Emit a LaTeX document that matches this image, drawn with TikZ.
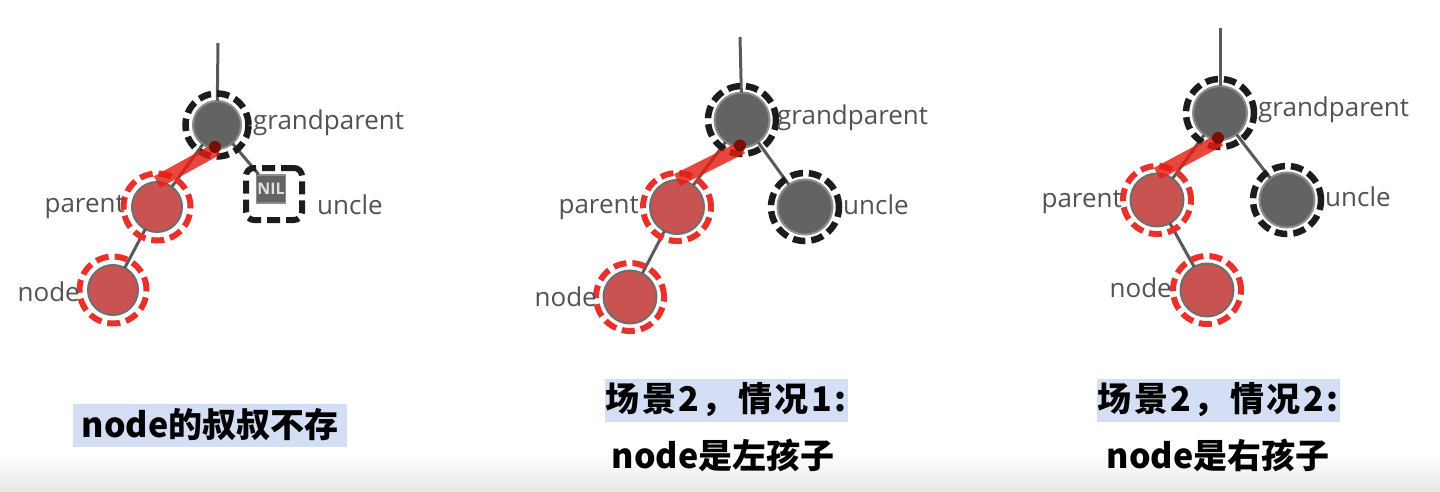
\documentclass[tikz,border=0pt]{standalone}
\usepackage{fontspec}
\setmainfont{Open Sans}
\newfontfamily\cjk{Noto Sans CJK SC}
\usetikzlibrary{calc}
\definecolor{nodegray}{HTML}{636363}
\definecolor{outgray}{HTML}{8C8C8C}
\definecolor{outred}{HTML}{6E6E6E}
\definecolor{nodered}{HTML}{C95350}
\definecolor{ringred}{HTML}{E8312B}
\definecolor{ringblack}{HTML}{1C1C1C}
\definecolor{edgegray}{HTML}{5A5A5A}
\definecolor{labelgray}{HTML}{525252}
\definecolor{bandred}{HTML}{E41E12}
\definecolor{darkdot}{HTML}{7A0C05}
\definecolor{hlblue}{HTML}{D4DFF6}
\newcommand\ks{\kern2.5pt}
\begin{document}
\begin{tikzpicture}[x=1pt,y=-1pt,
  gnode/.style={circle, inner sep=0pt, outer sep=0pt, minimum size=#1, fill=nodegray, draw=outgray, line width=2pt},
  rnode/.style={circle, inner sep=0pt, outer sep=0pt, minimum size=#1, fill=nodered, draw=outred, line width=2pt},
  bring/.style={circle, inner sep=0pt, minimum size=#1, draw=ringblack, line width=6.5pt, dash pattern=on 12.5pt off 6pt},
  rring/.style={circle, inner sep=0pt, minimum size=#1, draw=ringred, line width=6pt, dash pattern=on 13pt off 6pt},
  edge/.style={draw=edgegray, line width=3pt},
  band/.style={draw=bandred, line width=13pt, opacity=0.82},
  lbl/.style={text=labelgray, font=\fontsize{26}{30}\selectfont, inner sep=0pt},
  captxt/.style={font=\cjk\bfseries\fontsize{34}{40}\selectfont, text=black, inner sep=0pt},
  hlbox/.style={captxt, fill=hlblue, minimum height=43pt}
]
\useasboundingbox (0,0) rectangle (1440,492);
\shade[top color=white, bottom color=black!9] (0,452) rectangle (1440,492);

% ---------- panel 1 ----------
\node[gnode=48pt] (g1) at (217,125) {};
\node[rnode=50pt] (p1) at (157,207) {};
\node[rnode=50pt] (n1) at (113,290) {};
\node[rectangle, inner sep=0pt, minimum width=29pt, minimum height=28pt, fill=nodegray, draw=outgray, line width=1.5pt, text=white!88!black, font=\bfseries\fontsize{16}{17}\selectfont] (u1) at (271,189) {NIL};
\coordinate (t1) at (218,43);
\draw[edge] (t1) -- (g1);
\draw[edge] (g1) -- (p1);
\draw[edge] (g1) -- (u1);
\draw[edge] (p1) -- (n1);
\node[bring=63pt] (g1r) at (g1) {};
\node[rring=67pt] (p1r) at (p1) {};
\node[rring=67pt] (n1r) at (n1) {};
\node[rectangle, inner sep=0pt, minimum width=56pt, minimum height=52pt, rounded corners=8pt, draw=ringblack, line width=6pt, dash pattern=on 13pt off 6pt] (u1r) at (274,194) {};
\draw[band] (g1.south) -- (p1.north);
\fill[darkdot] ($(g1.south)+(-2,-2)$) circle (6pt);
\node[lbl, anchor=west] (g1l) at (253,123) {grandparent};
\node[lbl, anchor=west] (u1l) at (317,205) {uncle};
\node[lbl, anchor=east] (p1l) at (125,207) {parent};
\node[lbl, anchor=east] (n1l) at (80,292) {node};

% ---------- panel 2 ----------
\node[gnode=55pt] (g2) at (742,120) {};
\node[rnode=54pt] (p2) at (677,207) {};
\node[gnode=55pt] (u2) at (805,207) {};
\node[rnode=53pt] (n2) at (630,297) {};
\coordinate (t2) at (740,37);
\draw[edge] (t2) -- (g2);
\draw[edge] (g2) -- (p2);
\draw[edge] (g2) -- (u2);
\draw[edge] (p2) -- (n2);
\node[bring=68pt] (g2r) at (g2) {};
\node[rring=68pt] (p2r) at (p2) {};
\node[bring=68pt] (u2r) at (u2) {};
\node[rring=68pt] (n2r) at (n2) {};
\draw[band] (g2.south) -- (p2.north);
\fill[darkdot] ($(g2.south)+(-2,-2)$) circle (6pt);
\node[lbl, anchor=west] (g2l) at (777,118) {grandparent};
\node[lbl, anchor=west] (u2l) at (843,205) {uncle};
\node[lbl, anchor=east] (p2l) at (639,208) {parent};
\node[lbl, anchor=east] (n2l) at (597,297) {node};

% ---------- panel 3 ----------
\node[gnode=54pt] (g3) at (1220,113) {};
\node[rnode=53pt] (p3) at (1157,200) {};
\node[gnode=55pt] (u3) at (1287,200) {};
\node[rnode=53pt] (n3) at (1207,290) {};
\coordinate (t3) at (1220,28);
\draw[edge] (t3) -- (g3);
\draw[edge] (g3) -- (p3);
\draw[edge] (g3) -- (u3);
\draw[edge] (p3) -- (n3);
\node[bring=68pt] (g3r) at (g3) {};
\node[rring=68pt] (p3r) at (p3) {};
\node[bring=68pt] (u3r) at (u3) {};
\node[rring=68pt] (n3r) at (n3) {};
\draw[band] (g3.south) -- (p3.north);
\fill[darkdot] ($(g3.south)+(-2,-2)$) circle (6pt);
\node[lbl, anchor=west] (g3l) at (1258,110) {grandparent};
\node[lbl, anchor=west] (u3l) at (1325,197) {uncle};
\node[lbl, anchor=east] (p3l) at (1122,202) {parent};
\node[lbl, anchor=east] (n3l) at (1172,288) {node};

% ---------- captions ----------
\node[hlbox, minimum width=274pt] (c1) at (210,425) {node的叔叔不存};
\node[hlbox, minimum width=243pt] (c2a) at (726,400) {场\ks 景\ks 2\ks ，\ks 情\ks 况\ks 1\ks :};
\node[captxt] (c2b) at (723,455) {node是左孩子};
\node[hlbox, minimum width=243pt] (c3a) at (1218,400) {场\ks 景\ks 2\ks ，\ks 情\ks 况\ks 2\ks :};
\node[captxt] (c3b) at (1218,455) {node是右孩子};
\end{tikzpicture}
\end{document}
